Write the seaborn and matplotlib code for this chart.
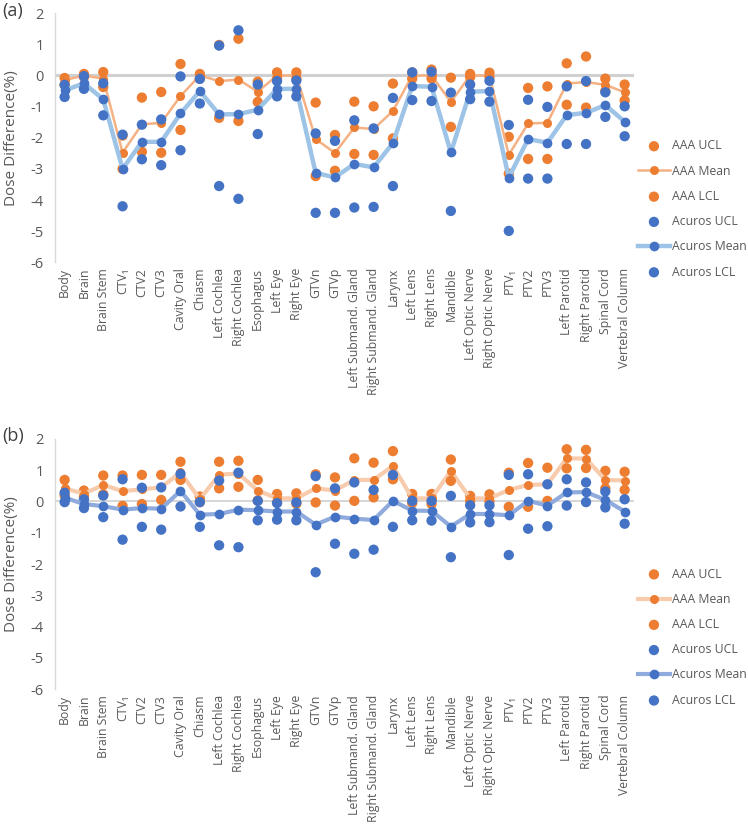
import numpy as np
import pandas as pd
import matplotlib
matplotlib.use("Agg")
import matplotlib.pyplot as plt
import seaborn as sns

categories = ["Body", "Brain", "Brain Stem", "CTV₁", "CTV2", "CTV3", "Cavity Oral", "Chiasm",
              "Left Cochlea", "Right Cochlea", "Esophagus", "Left Eye", "Right Eye", "GTVn", "GTVp",
              "Left Submand. Gland", "Right Submand. Gland", "Larynx", "Left Lens", "Right Lens",
              "Mandible", "Left Optic Nerve", "Right Optic Nerve", "PTV₁", "PTV2", "PTV3",
              "Left Parotid", "Right Parotid", "Spinal Cord", "Vertebral Column"]

# panel (a)
a_aaa_ucl = [-0.08, 0.05, 0.11, -1.93, -0.71, -0.53, 0.37, 0.05, 0.98, 1.18, -0.2, 0.1, 0.1, -0.87,
             -1.91, -0.84, -0.99, -0.26, 0.1, 0.19, -0.07, 0.05, 0.09, -1.97, -0.4, -0.35, 0.39, 0.61,
             -0.1, -0.29]
a_aaa_mean = [-0.15, 0.0, -0.1, -2.48, -1.57, -1.52, -0.66, 0.0, -0.18, -0.13, -0.52, 0.0, 0.0, -2.04,
              -2.49, -1.67, -1.72, -1.14, 0.0, 0.0, -0.85, 0.0, 0.0, -2.55, -1.54, -1.52, -0.26, -0.21,
              -0.3, -0.54]
a_aaa_lcl = [-0.3, -0.05, -0.37, -3.0, -2.45, -2.48, -1.75, -0.1, -1.36, -1.46, -0.85, -0.1, -0.1, -3.23,
             -3.06, -2.52, -2.55, -2.02, -0.1, -0.1, -1.65, -0.05, -0.05, -3.15, -2.68, -2.68, -0.94,
             -1.03, -0.5, -0.8]
a_acu_ucl = [-0.3, -0.02, -0.25, -1.9, -1.58, -1.41, -0.03, -0.11, 0.96, 1.45, -0.29, -0.18, -0.16, -1.86,
             -2.1, -1.44, -1.7, -0.72, 0.1, 0.12, -0.55, -0.29, -0.17, -1.59, -0.78, -1.01, -0.35, -0.18,
             -0.54, -0.99]
a_acu_mean = [-0.48, -0.25, -0.77, -3.0, -2.13, -2.13, -1.22, -0.5, -1.25, -1.24, -1.1, -0.43, -0.43,
              -3.13, -3.27, -2.84, -2.95, -2.17, -0.34, -0.36, -2.47, -0.52, -0.5, -3.28, -2.04, -2.16,
              -1.27, -1.2, -0.95, -1.48]
a_acu_lcl = [-0.69, -0.43, -1.28, -4.2, -2.69, -2.88, -2.4, -0.9, -3.55, -3.96, -1.88, -0.67, -0.67,
             -4.41, -4.41, -4.24, -4.22, -3.55, -0.79, -0.82, -4.35, -0.76, -0.84, -4.99, -3.31, -3.31,
             -2.2, -2.2, -1.33, -1.95]

# panel (b)
b_aaa_ucl = [0.69, 0.35, 0.83, 0.83, 0.85, 0.85, 1.27, 0.16, 1.27, 1.3, 0.69, 0.24, 0.26, 0.87, 0.77,
             1.38, 1.24, 1.61, 0.24, 0.24, 1.34, 0.18, 0.23, 0.92, 1.23, 1.08, 1.67, 1.65, 0.98, 0.95]
b_aaa_mean = [0.42, 0.25, 0.53, 0.33, 0.39, 0.45, 0.93, 0.07, 0.86, 0.89, 0.35, 0.1, 0.1, 0.42, 0.35,
              0.69, 0.69, 1.14, 0.1, 0.1, 0.98, 0.1, 0.1, 0.37, 0.53, 0.55, 1.38, 1.37, 0.69, 0.67]
b_aaa_lcl = [0.2, 0.15, 0.23, -0.14, -0.08, 0.05, 0.69, -0.02, 0.42, 0.47, 0.03, -0.03, -0.07, -0.03,
             -0.13, 0.02, 0.13, 0.71, -0.05, -0.08, 0.66, 0.02, 0.0, -0.17, -0.17, 0.02, 1.06, 1.07,
             0.42, 0.37]
b_acu_ucl = [0.28, 0.07, 0.19, 0.71, 0.44, 0.45, 0.88, -0.02, 0.67, 0.92, 0.02, -0.05, -0.03, 0.81, 0.42,
             0.61, 0.37, 0.85, 0.02, 0.02, 0.18, -0.12, -0.12, 0.85, 0.87, 0.55, 0.71, 0.61, 0.32, 0.07]
b_acu_mean = [0.12, -0.08, -0.15, -0.26, -0.21, -0.23, 0.34, -0.42, -0.4, -0.26, -0.28, -0.32, -0.32,
              -0.74, -0.48, -0.55, -0.59, 0.02, -0.29, -0.3, -0.8, -0.4, -0.4, -0.44, 0.02, -0.13, 0.29,
              0.3, 0.05, -0.32]
b_acu_lcl = [-0.02, -0.21, -0.5, -1.22, -0.81, -0.9, -0.16, -0.81, -1.4, -1.46, -0.6, -0.58, -0.6, -2.26,
             -1.35, -1.67, -1.54, -0.81, -0.6, -0.61, -1.78, -0.67, -0.66, -1.71, -0.87, -0.79, -0.13,
             -0.02, -0.19, -0.71]

ORANGE = "#ED7D31"
BLUE = "#4472C4"
GREY = "#595959"

plt.rcParams["font.family"] = ["Open Sans", "DejaVu Sans"]
plt.rcParams["axes.unicode_minus"] = False

fig = plt.figure(figsize=(7.48, 8.25), dpi=100)


def draw_panel(ax, aaa, acu, mean_cols, lw, legend_top, tag):
    x = np.arange(len(categories))
    df = pd.DataFrame({"x": x,
                       "aaa_ucl": aaa[0], "aaa_mean": aaa[1], "aaa_lcl": aaa[2],
                       "acu_ucl": acu[0], "acu_mean": acu[1], "acu_lcl": acu[2]})

    ax.axhline(0, color="#D0D0D0", lw=lw[2], zorder=1)

    sns.scatterplot(data=df, x="x", y="aaa_ucl", ax=ax, color=ORANGE, s=55,
                    edgecolor="none", label="AAA UCL", zorder=3)
    sns.lineplot(data=df, x="x", y="aaa_mean", ax=ax, color=mean_cols[0], lw=lw[0],
                 marker="o", markersize=6.5, markerfacecolor=ORANGE, markeredgecolor="none",
                 label="AAA Mean", zorder=3)
    sns.scatterplot(data=df, x="x", y="aaa_lcl", ax=ax, color=ORANGE, s=55,
                    edgecolor="none", label="AAA LCL", zorder=3)
    sns.scatterplot(data=df, x="x", y="acu_ucl", ax=ax, color=BLUE, s=55,
                    edgecolor="none", label="Acuros UCL", zorder=4)
    sns.lineplot(data=df, x="x", y="acu_mean", ax=ax, color=mean_cols[1], lw=lw[1],
                 marker="o", markersize=7, markerfacecolor=BLUE, markeredgecolor="none",
                 label="Acuros Mean", zorder=4)
    sns.scatterplot(data=df, x="x", y="acu_lcl", ax=ax, color=BLUE, s=55,
                    edgecolor="none", label="Acuros LCL", zorder=4)

    ax.set_xlim(-0.5, len(categories) - 0.5)
    ax.set_ylim(-6, 2)
    ax.set_yticks(range(-6, 3))
    ax.set_xticks(x)
    ax.set_xticklabels(categories, rotation=90, fontsize=8.8, color=GREY)
    ax.tick_params(axis="y", labelsize=10.5, labelcolor=GREY, length=0, pad=8)
    ax.tick_params(axis="x", length=0, pad=4)
    ax.set_xlabel("")
    ax.set_ylabel("Dose Difference(%)", fontsize=11, color=GREY)
    ax.yaxis.set_label_coords(-0.062, 0.5)
    for s in ["top", "right", "bottom"]:
        ax.spines[s].set_visible(False)
    ax.spines["left"].set_color("#D9D9D9")
    ax.spines["left"].set_linewidth(1)

    leg = ax.legend(loc="upper left", bbox_to_anchor=(0.853, legend_top),
                    bbox_transform=fig.transFigure, frameon=False, fontsize=8.8,
                    labelspacing=1.0, handlelength=2.6, handletextpad=0.15,
                    borderaxespad=0, borderpad=0)
    for t in leg.get_texts():
        t.set_color(GREY)

    fig.text(0.003, ax.get_position().y1 + 0.003, tag, fontsize=13, color="#404040",
             va="center", ha="left")


ax1 = fig.add_axes([0.0735, 0.682, 0.7745, 0.302])
draw_panel(ax1, (a_aaa_ucl, a_aaa_mean, a_aaa_lcl), (a_acu_ucl, a_acu_mean, a_acu_lcl),
           ("#F4B183", "#9DC3E6"), (1.8, 3.2, 2.2), 0.831, "(a)")

ax2 = fig.add_axes([0.0735, 0.1645, 0.7745, 0.3035])
draw_panel(ax2, (b_aaa_ucl, b_aaa_mean, b_aaa_lcl), (b_acu_ucl, b_acu_mean, b_acu_lcl),
           ("#F8CBAD", "#8FAADC"), (3.0, 3.0, 1.2), 0.312, "(b)")

fig.savefig("out.png", dpi=100)
